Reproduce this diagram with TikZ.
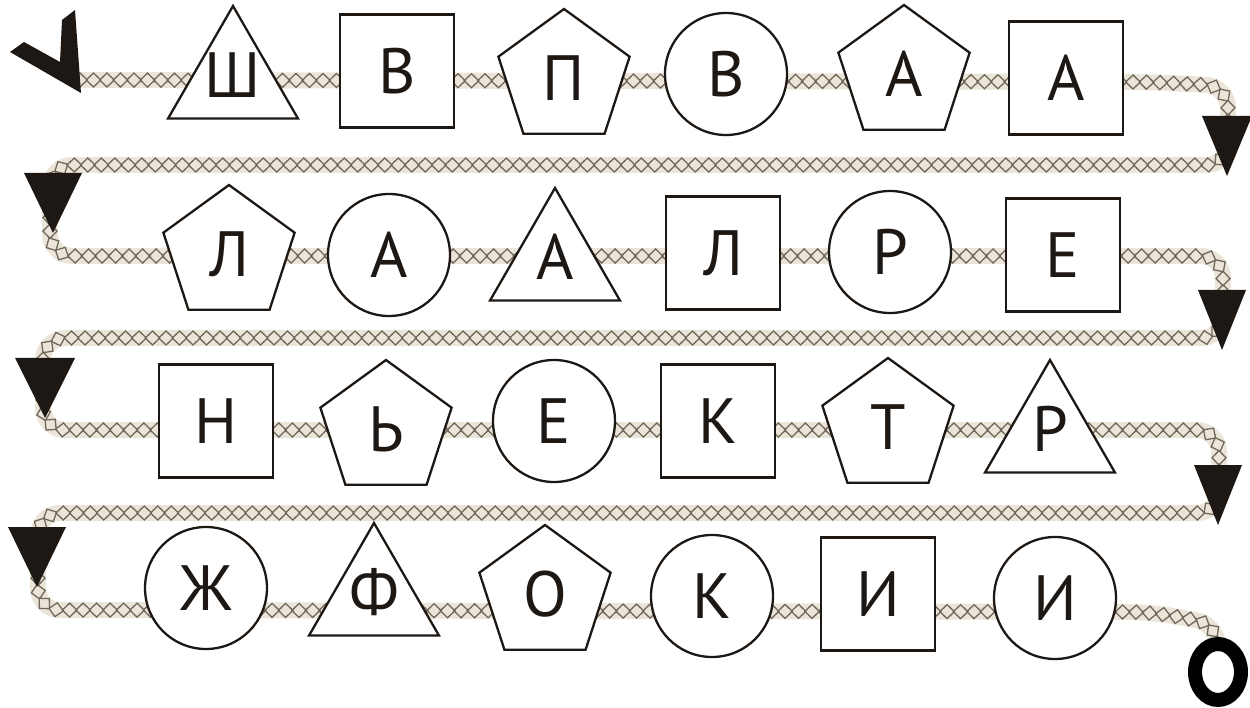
\documentclass[tikz,border=0pt]{standalone}
\usepackage{fontspec}
\usetikzlibrary{shapes.geometric,decorations.markings,backgrounds}
\newfontfamily\cyrfont{PT Sans}
\definecolor{ink}{RGB}{30,24,20}
\definecolor{rope}{RGB}{234,229,216}
\definecolor{linkgray}{RGB}{112,104,90}
\tikzset{
  cell/.style   = {draw=ink, fill=white, line width=2.3pt, inner sep=0pt, outer sep=0pt},
  sq/.style     = {cell, rectangle, minimum width=114pt, minimum height=113pt},
  circ/.style   = {cell, circle, minimum size=122pt},
  pent/.style   = {cell, regular polygon, regular polygon sides=5, minimum size=138pt},
  tri/.style    = {cell, regular polygon, regular polygon sides=3, minimum size=150pt},
  letter/.style = {label={[text=ink, inner sep=0pt, font=\cyrfont\fontsize{64}{64}\selectfont]center:#1}},
  triletter/.style = {label={[text=ink, inner sep=0pt, yshift=6pt, font=\cyrfont\fontsize{64}{64}\selectfont]center:#1}},
  rope/.style   = {draw=rope, line width=16pt, rounded corners=22pt},
  chain/.style  = {rounded corners=22pt, postaction={decorate},
                   decoration={markings, mark=between positions 0 and 1 step 13.5pt with
                     {\draw[sharp corners, linkgray, line width=1.3pt] (-7.3,0) -- (0,7) -- (7.3,0) -- (0,-7) -- cycle;}}},
  head/.style   = {fill=ink},
}

\begin{document}
\begin{tikzpicture}[x=1pt, y=-1pt]
\useasboundingbox (0,0) rectangle (1250,708);

% row 1
\node[tri,  triletter=Ш] (sha) at (233,81) {};
\node[sq,   letter=В] (ve1) at (397,71) {};
\node[pent, letter=П] (pe)  at (564,78) {};
\node[circ, letter=В] (ve2) at (726,74) {};
\node[pent, letter=А] (a1)  at (904,74) {};
\node[sq,   letter=А] (a2)  at (1066,78) {};

% row 2
\node[pent, letter=Л] (el1) at (229,254) {};
\node[circ, letter=А] (a3)  at (389,255) {};
\node[tri,  triletter=А] (a4)  at (555,263) {};
\node[sq,   letter=Л] (el2) at (723,253) {};
\node[circ, letter=Р] (er1) at (890,252) {};
\node[sq,   letter=Е] (ye1) at (1063,255) {};

% row 3
\node[sq,   letter=Н] (en)   at (216,421) {};
\node[pent, letter=Ь] (soft) at (386,429) {};
\node[circ, letter=Е] (ye2)  at (554,421) {};
\node[sq,   letter=К] (ka1)  at (718,421) {};
\node[pent, letter=Т] (te)   at (888,427) {};
\node[tri,  triletter=Р] (er2)  at (1050,435) {};

% row 4
\node[circ, letter=Ж] (zhe) at (206,588) {};
\node[tri,  triletter=Ф] (ef)  at (374,598) {};
\node[pent, letter=О] (o)   at (545,594) {};
\node[circ, letter=К] (ka2) at (712,596) {};
\node[sq,   letter=И] (i1)  at (878,594) {};
\node[circ, letter=И] (i2)  at (1055,598) {};

% start tick and end ring
\coordinate (start) at (80,80);
\node[draw=black, line width=14pt, ellipse, minimum width=46pt, minimum height=56pt,
      inner sep=0pt] (ring) at (1218,672) {};

% the chain, behind everything
\begin{scope}[on background layer]
\draw[rope] (start) -- (1150,82) -- (1228,86) -- (1228,165) -- (50,165) -- (50,256)
  -- (1223,256) -- (1223,338) -- (43,338) -- (43,430) -- (1219,430) -- (1219,513)
  -- (38,513) -- (38,610) -- (1150,612) -- (1218,624) -- (ring.north);
\path[chain] (start) -- (1150,82) -- (1228,86) -- (1228,165) -- (50,165) -- (50,256)
  -- (1223,256) -- (1223,338) -- (43,338) -- (43,430) -- (1219,430) -- (1219,513)
  -- (38,513) -- (38,610) -- (1150,612) -- (1218,624) -- (ring.north);
\end{scope}

\fill[ink] (10,52) -- (24,42) -- (60,62) -- (62,20) -- (75,10) -- (81,93) -- cycle;

% turn arrows
\foreach \x/\y/\w in {1227/176/25, 53/233/29, 1222/350/24, 45/418/30, 1218/525/24, 37/587/29}
  \fill[head] (\x,\y) -- ++(-\w,-60) -- ++(2*\w,0) -- cycle;
\end{tikzpicture}
\end{document}
